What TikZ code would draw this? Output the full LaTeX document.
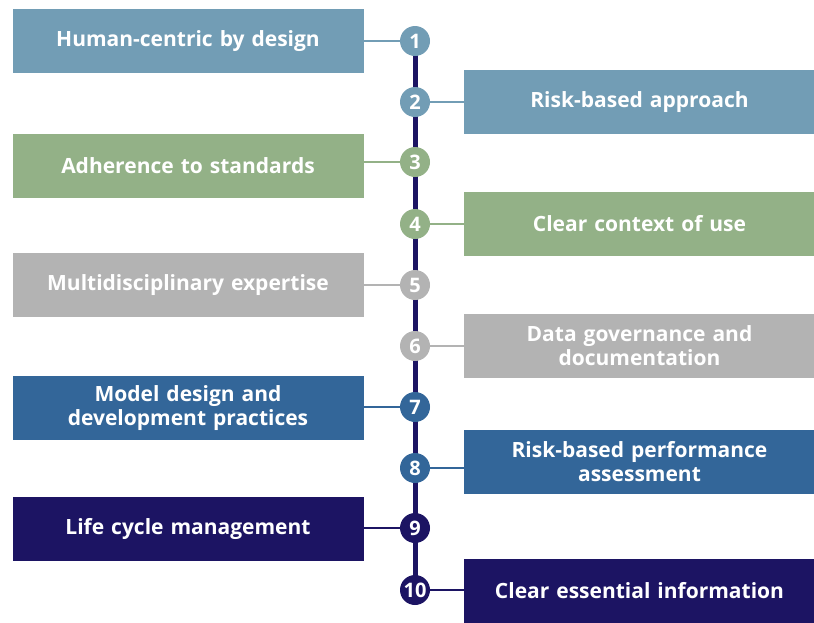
\documentclass[tikz,border=0pt]{standalone}
\usepackage{fontspec}
\setmainfont{Open Sans}
\usetikzlibrary{positioning}
\definecolor{steelc}{HTML}{729DB5}
\definecolor{sagec}{HTML}{93B187}
\definecolor{greyc}{HTML}{B3B3B3}
\definecolor{bluec}{HTML}{336699}
\definecolor{navyc}{HTML}{1C1463}
\tikzset{stagebox/.style={shape=rectangle,minimum width=351pt,minimum height=64pt,
        inner sep=0pt,text width=340pt,align=center,text=white,
        font=\fontsize{21}{24}\selectfont\bfseries},
        numdot/.style={shape=circle,minimum size=30pt,inner sep=0pt,text=white,
        font=\fontsize{20}{20}\selectfont\bfseries},
        link/.style={line width=1.6pt}}

\begin{document}
\begin{tikzpicture}[x=1pt,y=-1pt]
\useasboundingbox (0,0) rectangle (814,622);
\coordinate (top) at (415,41);
\coordinate (bot) at (415,590);
\draw[navyc,line width=5pt] (top) -- (bot);
% number, colour, dot height, box height, text
\foreach \i/\col/\dy/\by/\txt in {1/steelc/41/41/Human-centric by design,
  2/steelc/102/102/Risk-based approach,
  3/sagec/162/166/Adherence to standards,
  4/sagec/224/224/Clear context of use,
  5/greyc/285/285/Multidisciplinary expertise,
  6/greyc/346/346/Data governance and\\documentation,
  7/bluec/407/408/Model design and\\development practices,
  8/bluec/468/462/Risk-based performance\\assessment,
  9/navyc/528/529/Life cycle management,
  10/navyc/590/591/Clear essential information}
{
  \node[numdot,fill=\col] (n\i) at (415,\dy) {\i};
  \ifodd\i
    \node[stagebox,fill=\col] (b\i) at (188,\by) {\txt};
    \draw[link,\col] (n\i) -- (n\i -| b\i.east);
  \else
    \node[stagebox,fill=\col] (b\i) at (639.5,\by) {\txt};
    \draw[link,\col] (n\i) -- (n\i -| b\i.west);
  \fi
}
\end{tikzpicture}
\end{document}
